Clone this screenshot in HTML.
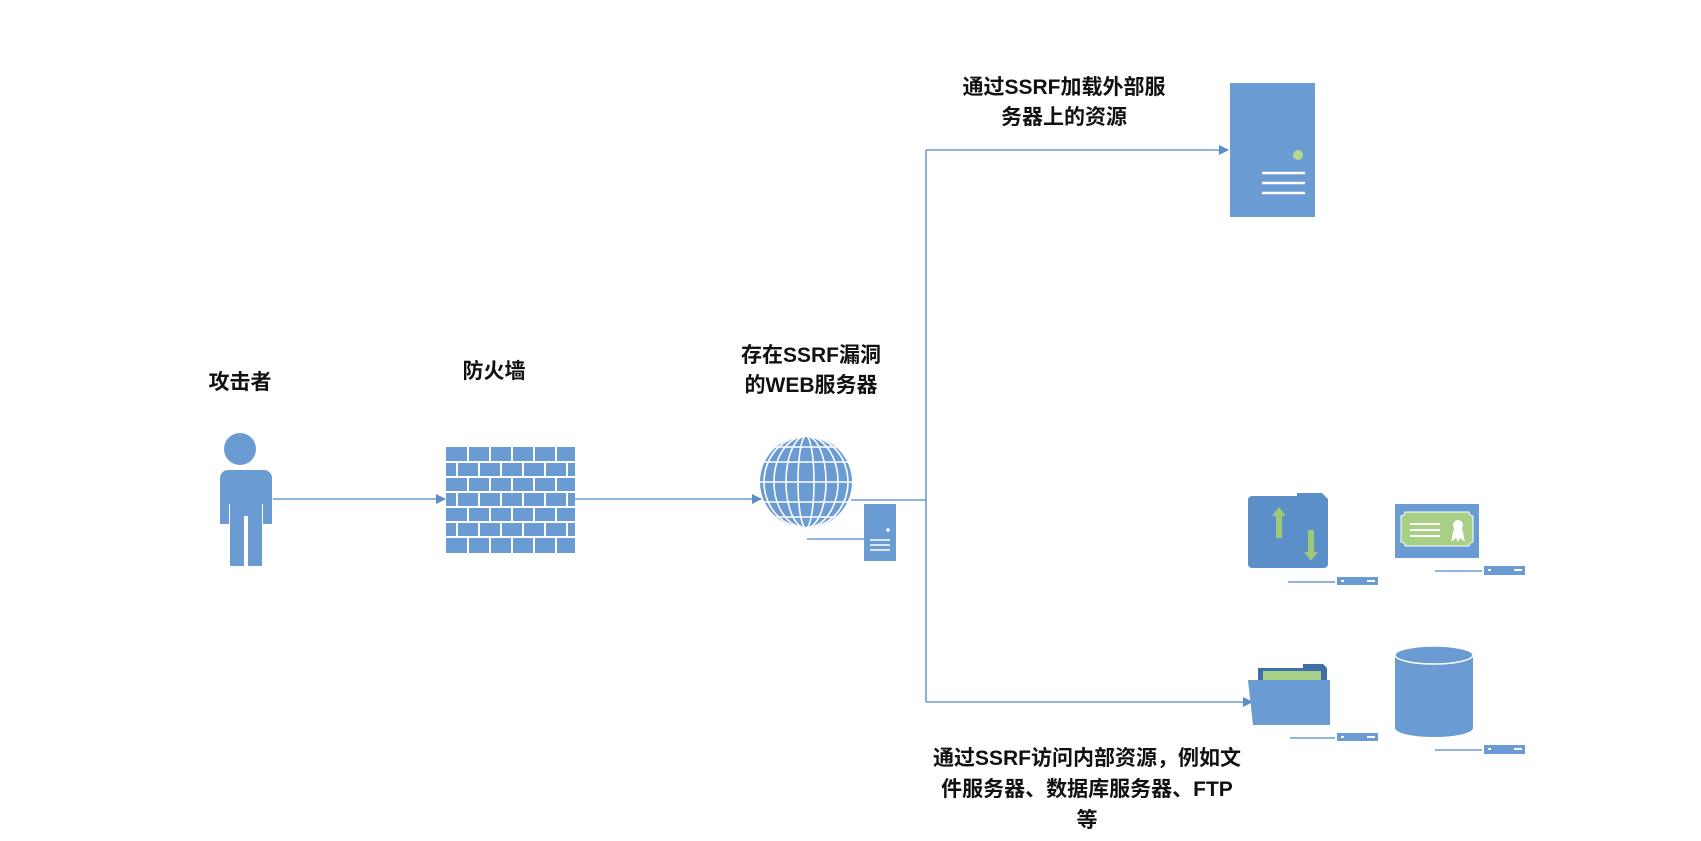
<!DOCTYPE html>
<html><head><meta charset="utf-8"><style>
html,body{margin:0;padding:0;background:#fff;}
svg{display:block}
text{font-family:"Liberation Sans","Noto Sans CJK SC",sans-serif;font-weight:bold;fill:#111;font-size:21px}
</style></head><body>
<svg width="1701" height="841" viewBox="0 0 1701 841" xmlns="http://www.w3.org/2000/svg">
<defs>
<marker id="a" markerWidth="10" markerHeight="10" refX="9" refY="5" orient="auto" markerUnits="userSpaceOnUse"><path d="M0,0 L10,5 L0,10z" fill="#5b8fc9"/></marker>
<clipPath id="gc"><circle cx="806" cy="482" r="46"/></clipPath>
</defs>
<g stroke="#6d9bd0" stroke-width="1.6" fill="none">
<line x1="273" y1="499" x2="445" y2="499" marker-end="url(#a)"/>
<line x1="575" y1="499" x2="761" y2="499" marker-end="url(#a)"/>
<polyline points="851,500 926,500"/>
<line x1="926" y1="150" x2="926" y2="702"/>
<line x1="926" y1="150" x2="1228" y2="150" marker-end="url(#a)"/>
<line x1="926" y1="702" x2="1252" y2="702" marker-end="url(#a)"/>
<line x1="807" y1="539" x2="864" y2="539"/>
<line x1="1288" y1="582" x2="1335" y2="582"/>
<line x1="1435" y1="571" x2="1482" y2="571"/>
<line x1="1290" y1="738" x2="1335" y2="738"/>
<line x1="1435" y1="750" x2="1482" y2="750"/>
</g>
<!-- person -->
<g fill="#6a9bd2">
<circle cx="240" cy="449" r="16"/>
<path d="M216,470 h48 a8,8 0 0 1 8,8 v46 h-9 v-20 h-1 v62 h-14 v-50 h-4 v50 h-14 v-62 h-1 v20 h-9 v-46 a8,8 0 0 1 8,-8z"/>
</g>
<!-- firewall -->
<rect x="446" y="447" width="129" height="106" fill="#6a9bd2"/>
<g stroke="#fff" stroke-width="2">
<line x1="446" y1="462" x2="575" y2="462"/><line x1="446" y1="477" x2="575" y2="477"/><line x1="446" y1="492" x2="575" y2="492"/><line x1="446" y1="507" x2="575" y2="507"/><line x1="446" y1="522" x2="575" y2="522"/><line x1="446" y1="537" x2="575" y2="537"/>
<path d="M468,447v15M490,447v15M512,447v15M534,447v15M556,447v15 M457,462v15M479,462v15M501,462v15M523,462v15M545,462v15M567,462v15 M468,477v15M490,477v15M512,477v15M534,477v15M556,477v15 M457,492v15M479,492v15M501,492v15M523,492v15M545,492v15M567,492v15 M468,507v15M490,507v15M512,507v15M534,507v15M556,507v15 M457,522v15M479,522v15M501,522v15M523,522v15M545,522v15M567,522v15 M468,537v16M490,537v16M512,537v16M534,537v16M556,537v16"/>
</g>
<!-- globe -->
<circle cx="806" cy="482" r="46" fill="#6a9bd2"/>
<g clip-path="url(#gc)" stroke="#fff" stroke-width="1.6" fill="none">
<line x1="760" y1="462" x2="852" y2="462"/><line x1="760" y1="482" x2="852" y2="482"/><line x1="760" y1="502" x2="852" y2="502"/><line x1="760" y1="447" x2="852" y2="447"/><line x1="760" y1="517" x2="852" y2="517"/>
<ellipse cx="806" cy="482" rx="8" ry="46"/><ellipse cx="806" cy="482" rx="20" ry="46"/><ellipse cx="806" cy="482" rx="32" ry="46"/><ellipse cx="806" cy="482" rx="42" ry="46"/>
</g>
<!-- small server -->
<rect x="864" y="504" width="32" height="57" fill="#6a9bd2"/>
<circle cx="888" cy="530" r="1.8" fill="#fff"/>
<g stroke="#fff" stroke-width="1.5"><line x1="870" y1="540" x2="890" y2="540"/><line x1="870" y1="545" x2="890" y2="545"/><line x1="870" y1="550" x2="890" y2="550"/></g>
<!-- top server -->
<rect x="1230" y="83" width="85" height="134" fill="#6a9bd2"/>
<circle cx="1298" cy="155" r="5" fill="#b5d88c"/>
<g stroke="#fff" stroke-width="2.5"><line x1="1262" y1="173" x2="1305" y2="173"/><line x1="1262" y1="183" x2="1305" y2="183"/><line x1="1262" y1="193" x2="1305" y2="193"/></g>
<!-- FTP folder -->
<path d="M1248,500 a4,4 0 0 1 4,-4 h45 v-3 h25 l6,6 v65 a4,4 0 0 1 -4,4 h-72 a4,4 0 0 1 -4,-4z" fill="#5b8fc9"/>
<path d="M1272,516 l7,-9 l7,9 h-4 v22 h-6 v-22z" fill="#9cc878"/>
<path d="M1304,552 l7,9 l7,-9 h-4 v-22 h-6 v22z" fill="#9cc878"/>
<!-- certificate -->
<rect x="1395" y="504" width="84" height="54" fill="#6a9bd2"/>
<path d="M1405,512 h64 a4,4 0 0 0 4,4 v26 a4,4 0 0 0 -4,4 h-64 a4,4 0 0 0 -4,-4 v-26 a4,4 0 0 0 4,-4z" fill="#a8cf86" stroke="#fff" stroke-width="1"/>
<g stroke="#fff" stroke-width="2"><line x1="1410" y1="524" x2="1440" y2="524"/><line x1="1410" y1="530" x2="1440" y2="530"/><line x1="1410" y1="536" x2="1440" y2="536"/></g>
<circle cx="1458" cy="525" r="5" fill="#fff"/><path d="M1454,528 l-3,14 l5,-4 l2,4 l2,-4 l5,4 l-3,-14z" fill="#fff"/>
<!-- open folder -->
<path d="M1258,668 h45 v-4 h20 l4,4 v57 h-69z" fill="#3e6fa6"/>
<rect x="1263" y="671" width="58" height="50" fill="#a8cf86"/>
<path d="M1248,680 h58 l24,0 l0,45 h-72z" fill="#6a9bd2" transform="skewX(-0)"/>
<path d="M1248,680 h67 l14,45 h-76z" fill="#6a9bd2"/>
<!-- database -->
<path d="M1395,655 v73 a39,9 0 0 0 78,0 v-73z" fill="#6a9bd2"/>
<ellipse cx="1434" cy="655" rx="39" ry="9" fill="#6a9bd2" stroke="#fff" stroke-width="1.5"/>
<!-- server bars -->
<g fill="#6a9bd2"><rect x="1337" y="577" width="41" height="8"/><rect x="1484" y="566" width="41" height="9"/><rect x="1337" y="733" width="41" height="8"/><rect x="1484" y="745" width="41" height="9"/></g>
<g fill="#fff"><rect x="1341" y="580" width="3" height="2"/><rect x="1367" y="580" width="8" height="2"/><rect x="1488" y="569" width="3" height="2"/><rect x="1514" y="569" width="8" height="2"/><rect x="1341" y="736" width="3" height="2"/><rect x="1367" y="736" width="8" height="2"/><rect x="1488" y="748" width="3" height="2"/><rect x="1514" y="748" width="8" height="2"/></g>
<!-- labels -->
<text x="240" y="389" text-anchor="middle">攻击者</text>
<text x="494" y="378" text-anchor="middle">防火墙</text>
<text x="811" y="362" text-anchor="middle">存在SSRF漏洞</text>
<text x="811" y="392" text-anchor="middle">的WEB服务器</text>
<text x="1064" y="94" text-anchor="middle">通过SSRF加载外部服</text>
<text x="1064" y="124" text-anchor="middle">务器上的资源</text>
<text x="1087" y="765" text-anchor="middle">通过SSRF访问内部资源，例如文</text>
<text x="1087" y="796" text-anchor="middle">件服务器、数据库服务器、FTP</text>
<text x="1087" y="827" text-anchor="middle">等</text>
</svg>
</body></html>
